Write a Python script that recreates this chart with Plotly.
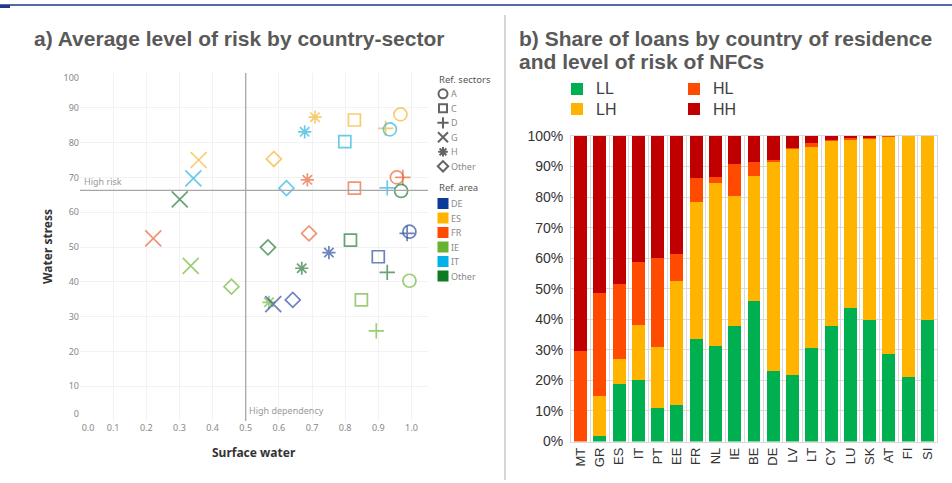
import plotly.graph_objects as go

W, H = 952, 483

# ---------------- Panel a data ----------------
areas = ["ES", "IT", "Other", "FR", "IE", "IE", "ES", "ES", "ES", "ES", "IT", "IT",
         "IT", "ES", "FR", "FR", "FR", "IT", "FR", "IT", "Other", "FR", "Other", "DE",
         "DE", "Other", "DE", "DE", "Other", "Other", "IE", "IE", "DE", "DE", "IE", "IE"]
sectors = ["G", "G", "G", "G", "G", "Other", "H", "C", "A", "D", "A", "H",
           "C", "Other", "H", "A", "D", "Other", "C", "D", "A", "Other", "C", "A",
           "D", "Other", "H", "C", "H", "D", "A", "H", "G", "Other", "C", "D"]
surface = [0.358, 0.342, 0.301, 0.221, 0.334, 0.457, 0.709, 0.828, 0.967, 0.922, 0.935, 0.678,
           0.799, 0.585, 0.686, 0.956, 0.974, 0.623, 0.828, 0.927, 0.969, 0.691, 0.816, 0.994,
           0.987, 0.567, 0.751, 0.900, 0.669, 0.927, 0.994, 0.570, 0.583, 0.642, 0.849, 0.894]
stress = [75.0, 69.7, 63.7, 52.5, 44.6, 38.6, 87.3, 86.5, 88.1, 84.1, 83.8, 83.1,
          80.3, 75.3, 69.3, 70.0, 70.0, 66.9, 66.9, 67.0, 66.1, 53.9, 52.0, 54.4,
          53.9, 49.9, 48.4, 47.2, 43.9, 42.7, 40.3, 34.1, 33.6, 34.8, 34.8, 25.9]

sector_keys = ["A", "C", "D", "G", "H", "Other"]
area_keys = ["DE", "ES", "FR", "IE", "IT", "Other"]
x_ticks = [0.0, 0.1, 0.2, 0.3, 0.4, 0.5, 0.6, 0.7, 0.8, 0.9, 1.0]
y_ticks = [0, 10, 20, 30, 40, 50, 60, 70, 80, 90, 100]
high_risk = 66.3
high_dep = 0.5

# ---------------- Panel b data ----------------
countries = ["MT", "GR", "ES", "IT", "PT", "EE", "FR", "NL", "IE", "BE", "DE", "LV",
             "LT", "CY", "LU", "SK", "AT", "FI", "SI"]
LL = [0, 1.9, 18.8, 20.0, 10.9, 12.0, 33.6, 31.3, 37.8, 46.1, 23.1, 21.9, 30.6, 37.8, 43.8, 39.8, 28.6, 21.1, 39.8]
LH = [0, 13.1, 8.3, 18.1, 20.0, 40.5, 44.9, 53.2, 42.7, 40.8, 68.4, 74.0, 65.8, 60.8, 55.2, 59.5, 71.2, 78.9, 60.2]
HL = [29.7, 33.7, 24.6, 20.7, 29.1, 8.9, 7.6, 2.0, 10.2, 4.6, 0.7, 0.1, 1.4, 0.2, 0.3, 0.3, 0.2, 0, 0]
HH = [70.3, 51.3, 48.3, 41.2, 40.0, 38.6, 13.9, 13.5, 9.3, 8.5, 7.8, 4.0, 2.2, 1.2, 0.7, 0.4, 0.0, 0, 0]
risk_names = ["LL", "LH", "HL", "HH"]
pct_ticks = [0, 10, 20, 30, 40, 50, 60, 70, 80, 90, 100]

# ---------------- styles ----------------
symbol_map = {"A": "circle-open", "C": "square-open", "D": "cross-thin-open",
              "G": "x-thin-open", "H": "asterisk-open", "Other": "diamond-open"}
size_map = {"A": 13, "C": 12, "D": 11, "G": 16, "H": 11, "Other": 11.5}
legend_size_map = {"A": 9, "C": 8, "D": 8, "G": 10, "H": 8, "Other": 8}
marker_color = {"DE": "#2f4f9e", "ES": "#f5b731", "FR": "#e8683b",
                "IE": "#72b83c", "IT": "#2cb3df", "Other": "#2a7a3a"}
legend_color = {"DE": "#0b3a9a", "ES": "#ffb400", "FR": "#ff4b00",
                "IE": "#65b32e", "IT": "#00b1ea", "Other": "#0e7a22"}
bar_colors = {"LL": "#00b050", "LH": "#ffb400", "HL": "#ff4b00", "HH": "#c00000"}

TF = "Noto Sans"
AF = "Liberation Sans, Arial"
TICKF = dict(family=TF, size=9, color="#888888")


def px(x):
    return x / W


def py(y):
    return 1 - y / H


fig = go.Figure()

fig.add_trace(go.Scatter(
    x=surface, y=stress, mode="markers", xaxis="x", yaxis="y", showlegend=False,
    marker=dict(symbol=[symbol_map[s] for s in sectors],
                size=[size_map[s] for s in sectors],
                color=[marker_color[a] for a in areas],
                line=dict(width=1.7, color=[marker_color[a] for a in areas])),
    hoverinfo="skip"))
fig.add_trace(go.Scatter(x=[None], y=[None], xaxis="x", yaxis="y4", showlegend=False, hoverinfo="skip"))
fig.add_trace(go.Scatter(x=[None], y=[None], xaxis="x", yaxis="y5", showlegend=False, hoverinfo="skip"))
fig.add_trace(go.Scatter(x=[None], y=[None], xaxis="x4", yaxis="y", showlegend=False, hoverinfo="skip"))

vals = {"LL": LL, "LH": LH, "HL": HL, "HH": HH}
for n in risk_names:
    fig.add_trace(go.Bar(x=countries, y=vals[n], name=n, xaxis="x2", yaxis="y2",
                         marker=dict(color=bar_colors[n], line=dict(width=0)),
                         showlegend=False, hoverinfo="skip"))

leg_x = 443
sec_y = [93.8 + 14.5 * i for i in range(len(sector_keys))]
area_y = [203.5 + 14.5 * i for i in range(len(area_keys))]
fig.add_trace(go.Scatter(
    x=[leg_x] * len(sector_keys), y=sec_y, mode="markers", xaxis="x3", yaxis="y3",
    showlegend=False, hoverinfo="skip",
    marker=dict(symbol=[symbol_map[s] for s in sector_keys],
                size=[legend_size_map[s] for s in sector_keys],
                color="#222222", line=dict(width=2, color="#222222"))))
fig.add_trace(go.Scatter(
    x=[leg_x] * len(area_keys), y=area_y, mode="markers", xaxis="x3", yaxis="y3",
    showlegend=False, hoverinfo="skip",
    marker=dict(symbol="square", size=11, color=[legend_color[a] for a in area_keys],
                line=dict(width=0))))

bar_leg_order = ["LL", "LH", "HL", "HH"]
bl_x = [577, 577, 694, 694]
bl_y = [89, 109, 89, 109]
fig.add_trace(go.Scatter(
    x=bl_x, y=bl_y, mode="markers", xaxis="x3", yaxis="y3", showlegend=False,
    hoverinfo="skip",
    marker=dict(symbol="square", size=12, color=[bar_colors[n] for n in bar_leg_order],
                line=dict(width=0))))

annotations = []
TITLE_FONT = dict(family=AF, size=21, color="#595959")
annotations.append(dict(text="<b>a) Average level of risk by country-sector</b>",
                        x=px(32), y=py(38), xref="paper", yref="paper", xanchor="left",
                        yanchor="middle", showarrow=False, font=TITLE_FONT))
annotations.append(dict(text="<b>b) Share of loans by country of residence</b>",
                        x=px(517), y=py(38), xref="paper", yref="paper", xanchor="left",
                        yanchor="middle", showarrow=False, font=TITLE_FONT))
annotations.append(dict(text="<b>and level of risk of NFCs</b>",
                        x=px(517), y=py(61), xref="paper", yref="paper", xanchor="left",
                        yanchor="middle", showarrow=False, font=TITLE_FONT))
annotations.append(dict(text="Ref. sectors", x=px(437), y=py(80), xref="paper", yref="paper",
                        xanchor="left", yanchor="middle", showarrow=False,
                        font=dict(family=TF, size=9.5, color="#555555")))
for k, yy in zip(sector_keys, sec_y):
    annotations.append(dict(text=k, x=px(449), y=py(yy), xref="paper", yref="paper",
                            xanchor="left", yanchor="middle", showarrow=False,
                            font=dict(family=TF, size=9, color="#8a8a8a")))
annotations.append(dict(text="Ref. area", x=px(437), y=py(188), xref="paper", yref="paper",
                        xanchor="left", yanchor="middle", showarrow=False,
                        font=dict(family=TF, size=9.5, color="#555555")))
for k, yy in zip(area_keys, area_y):
    annotations.append(dict(text=k, x=px(449), y=py(yy), xref="paper", yref="paper",
                            xanchor="left", yanchor="middle", showarrow=False,
                            font=dict(family=TF, size=9, color="#8a8a8a")))
for n, xx, yy in zip(bar_leg_order, bl_x, bl_y):
    annotations.append(dict(text=n, x=px(xx + 17), y=py(yy), xref="paper", yref="paper",
                            xanchor="left", yanchor="middle", showarrow=False,
                            font=dict(family=AF, size=16, color="#404040")))
annotations.append(dict(text="High risk", x=0.005, y=high_risk, xref="x", yref="y",
                        xanchor="left", yanchor="bottom", showarrow=False,
                        font=dict(family=TF, size=9, color="#9a9a9a")))
annotations.append(dict(text="High dependency", x=high_dep + 0.005, y=0.5, xref="x", yref="y",
                        xanchor="left", yanchor="bottom", showarrow=False,
                        font=dict(family=TF, size=9, color="#9a9a9a")))
annotations.append(dict(text="<b>Surface water</b>", x=px(254), y=py(452), xref="paper",
                        yref="paper", xanchor="center", yanchor="middle", showarrow=False,
                        font=dict(family=TF, size=12, color="#333333")))
annotations.append(dict(text="<b>Water stress</b>", x=px(47), y=py(247), xref="paper",
                        yref="paper", xanchor="center", yanchor="middle", showarrow=False,
                        textangle=-90, font=dict(family=TF, size=12, color="#333333")))

shapes = [
    dict(type="line", xref="paper", yref="paper", x0=0, x1=1, y0=py(5), y1=py(5),
         line=dict(color="#1f3a8a", width=1.5)),
    dict(type="rect", xref="paper", yref="paper", x0=0, x1=px(10), y0=py(8), y1=py(5),
         line=dict(width=0), fillcolor="#1f3a8a"),
    dict(type="line", xref="paper", yref="paper", x0=px(505), x1=px(505), y0=py(15), y1=py(480),
         line=dict(color="#d6d6d6", width=2)),
    dict(type="line", xref="x", yref="y", x0=0, x1=1.05, y0=high_risk, y1=high_risk,
         line=dict(color="#a6a6a6", width=1.3)),
    dict(type="line", xref="x", yref="y", x0=high_dep, x1=high_dep, y0=0, y1=100,
         line=dict(color="#a6a6a6", width=1.3)),
]

xdom = [px(80), px(428)]
ydom = [py(421), py(73)]
fig.update_layout(
    width=W, height=H, autosize=False, margin=dict(l=0, r=0, t=0, b=0, pad=0),
    paper_bgcolor="white", plot_bgcolor="rgba(0,0,0,0)",
    barmode="stack", bargap=0.33, showlegend=False,
    annotations=annotations, shapes=shapes,
    xaxis=dict(domain=xdom, range=[0, 1.05], tickvals=x_ticks[1:], automargin=False,
               ticktext=["%.1f" % v for v in x_ticks[1:]], showgrid=True, gridcolor="#f2f2f2",
               gridwidth=1, zeroline=False, showline=False, ticks="",
               tickfont=TICKF, anchor="y"),
    xaxis4=dict(overlaying="x", anchor="y", range=[0, 1.05], tickvals=[x_ticks[0]],
                ticktext=["%.1f" % x_ticks[0]], showgrid=True, gridcolor="#f2f2f2",
                zeroline=False, showline=False, ticks="", tickfont=TICKF, ticklabelshift=8,
                side="bottom", automargin=False),
    yaxis=dict(domain=ydom, range=[0, 100], tickvals=y_ticks[1:-1], automargin=False,
               showgrid=True, gridcolor="#f2f2f2", gridwidth=1, zeroline=False,
               showline=False, ticks="", anchor="x", tickfont=TICKF),
    yaxis4=dict(overlaying="y", anchor="x", range=[0, 100], tickvals=[y_ticks[0]],
                showgrid=True, gridcolor="#f2f2f2", zeroline=False, showline=False,
                ticks="", tickfont=TICKF, ticklabelshift=-7, side="left", automargin=False),
    yaxis5=dict(overlaying="y", anchor="x", range=[0, 100], tickvals=[y_ticks[-1]],
                showgrid=True, gridcolor="#f2f2f2", zeroline=False, showline=False,
                ticks="", tickfont=TICKF, ticklabelshift=5, side="left", automargin=False),
    xaxis2=dict(domain=[px(571), px(937)], anchor="y2", tickangle=-90, automargin=False,
                tickson="boundaries", showgrid=True, gridcolor="#d9d9d9", gridwidth=1,
                showline=True, linecolor="#d9d9d9", mirror=True, ticks="",
                tickfont=dict(family=AF, size=13, color="#333333")),
    yaxis2=dict(domain=[py(441.5), py(136)], anchor="x2", range=[0, 100], automargin=False,
                tickvals=pct_ticks, ticktext=["%d%%" % v for v in pct_ticks],
                showgrid=True, gridcolor="#d9d9d9", gridwidth=1, zeroline=False,
                showline=True, linecolor="#d9d9d9", mirror=True, ticks="",
                ticklabelstandoff=4,
                tickfont=dict(family=AF, size=14, color="#333333")),
    xaxis3=dict(domain=[0, 1], range=[0, W], visible=False, anchor="y3", fixedrange=True,
                automargin=False),
    yaxis3=dict(domain=[0, 1], range=[H, 0], visible=False, anchor="x3", fixedrange=True,
                automargin=False),
)

fig.write_html("out.html", config={"displayModeBar": False},
               post_script="document.body.style.margin='0';document.body.style.overflow='hidden';")
